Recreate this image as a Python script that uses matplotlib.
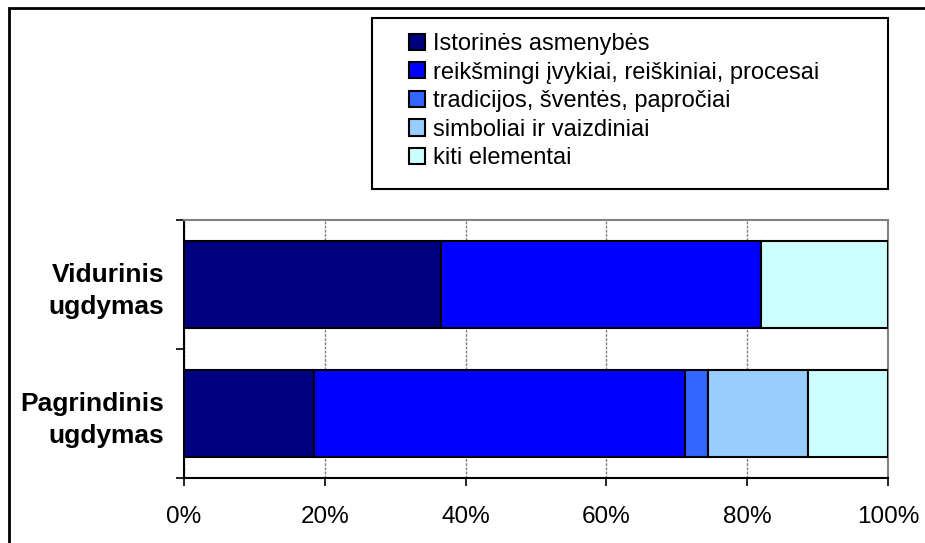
import numpy as np
import matplotlib
matplotlib.use('Agg')
import matplotlib.pyplot as plt
from matplotlib.patches import Rectangle

plt.rcParams['font.family'] = ['Liberation Sans', 'DejaVu Sans']

# duomenys
categories = ['Pagrindinis\nugdymas', 'Vidurinis\nugdymas']
series_names = ['Istorinės asmenybės',
                'reikšmingi įvykiai, reiškiniai, procesai',
                'tradicijos, šventės, papročiai',
                'simboliai ir vaizdiniai',
                'kiti elementai']
pagrindinis = [18.5, 52.6, 3.4, 14.2, 11.3]
vidurinis = [36.5, 45.5, 0.0, 0.0, 18.0]
colors = ['#000080', '#0000FF', '#3366FF', '#99CCFF', '#CCFFFF']
xticks = [0, 20, 40, 60, 80, 100]

W, H = 925, 543
fig = plt.figure(figsize=(W / 100, H / 100), dpi=100)
ax = fig.add_axes([184 / W, 1 - 478 / H, (888 - 184) / W, (478 - 220) / H])

vals = np.array([pagrindinis, vidurinis])
y = np.arange(len(categories))
left = np.zeros(len(categories))
handles = []
for i, name in enumerate(series_names):
    b = ax.barh(y, vals[:, i], left=left, height=0.667, color=colors[i],
                edgecolor='black', linewidth=1.5, label=name, zorder=3)
    handles.append(b)
    left += vals[:, i]

ax.set_xlim(0, 100)
ax.set_ylim(-0.5, 1.5)
ax.set_xticks(xticks)
ax.set_xticklabels([f'{t}%' for t in xticks], fontsize=17.5)
ax.set_yticks(y)
ax.set_yticklabels(categories, fontsize=19, fontweight='bold', ha='right',
                   multialignment='right', linespacing=1.4)
ax.set_yticks([-0.5, 0.5, 1.5], minor=True)
ax.tick_params(axis='y', which='major', length=0, pad=14)
ax.tick_params(axis='y', which='minor', length=6, width=1.2, direction='out')
ax.tick_params(axis='x', length=6, width=1.2, direction='out', pad=14)

ax.grid(axis='x', color='#808080', linestyle=(0, (2, 1)), linewidth=1, zorder=0)
for s in ['top', 'right']:
    ax.spines[s].set_color('#808080')
    ax.spines[s].set_linewidth(1.5)
for s in ['left', 'bottom']:
    ax.spines[s].set_color('black')
    ax.spines[s].set_linewidth(1.5)

# legenda be rėmelio, rėmelis atskirai
leg = fig.legend(handles=handles, labels=series_names, loc='upper left',
                 bbox_to_anchor=(409 / W, 1 - 33 / H), fontsize=17,
                 frameon=False, handlelength=0.68, handleheight=0.68,
                 handletextpad=0.34, labelspacing=0.28, borderpad=0,
                 borderaxespad=0)
fig.add_artist(Rectangle((372 / W, 1 - 189 / H), (888 - 372) / W, (189 - 18) / H,
                         transform=fig.transFigure, fill=False,
                         edgecolor='black', linewidth=1.5))

# ramelis aplink diagramą
fig.add_artist(Rectangle((9 / W, -0.1), 2, 1.1 - 8.5 / H,
                         transform=fig.transFigure, fill=False,
                         edgecolor='black', linewidth=2))

fig.savefig('out.png', dpi=100)
